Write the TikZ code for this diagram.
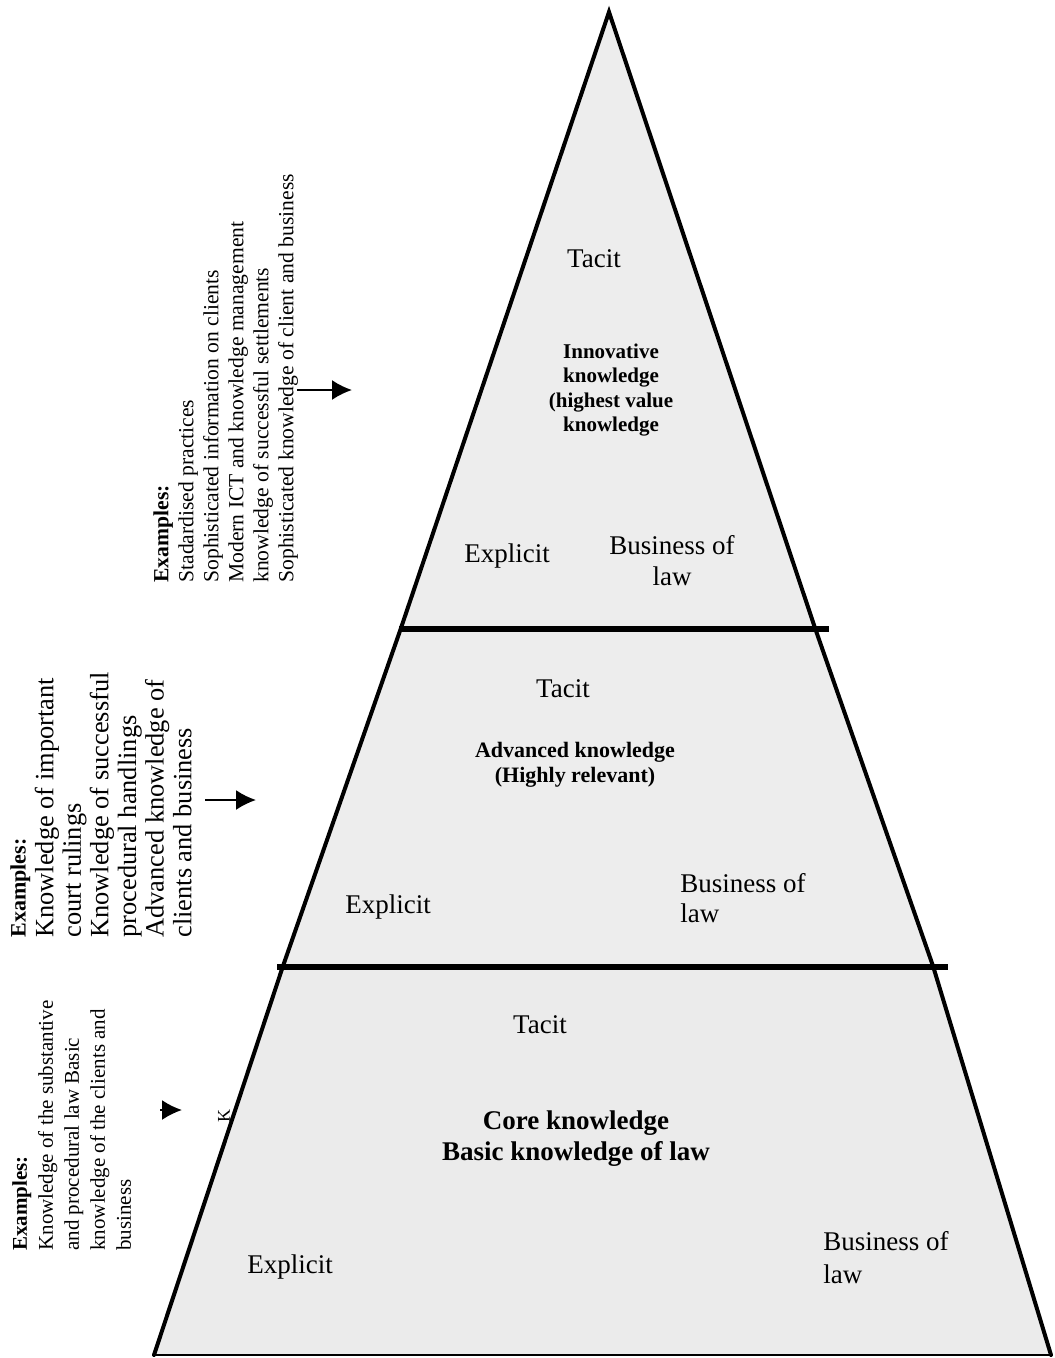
\documentclass[tikz,border=0pt]{standalone}
\usepackage{fontspec}
\setmainfont{Liberation Serif}
\usetikzlibrary{arrows.meta}
\begin{document}
\begin{tikzpicture}[x=0.5pt,y=-0.5pt,
  pyrfill/.style={fill=black!7},
  side/.style={line width=2pt,line cap=round},
  sep/.style={line width=3.3pt},
  lbl/.style={inner sep=0pt,font=\fontsize{13.5}{15.5}\selectfont},
  boldlbl/.style={inner sep=0pt,align=center,font=\bfseries},
  exbox/.style={inner sep=0pt,rotate=90,anchor=north west,align=left},
  arr/.style={line width=1pt,-{Latex[length=10pt,width=10pt]}}]
\useasboundingbox (0,0) rectangle (1054,1358);
% corner coordinates
\coordinate (apex) at (609,12);
\coordinate (l1) at (401,628);
\coordinate (r1) at (815,628);
\coordinate (l2) at (283,966);
\coordinate (r2) at (933,966);
\coordinate (l3) at (154,1355);
\coordinate (r3) at (1051,1355);
% fills
\fill[pyrfill] (apex) -- (l1) -- (r1) -- cycle;
\fill[pyrfill] (l1) -- (r1) -- (r2) -- (l2) -- cycle;
\fill[black!8] (l2) -- (r2) -- (r3) -- (l3) -- cycle;
% sides
\draw[side] (l1) -- (apex) -- (r1);
\draw[side] (l1) -- (l2);
\draw[side] (r1) -- (r2);
\draw[side] (l2) -- (l3);
\draw[side] (r2) -- (r3);
\draw[line width=1pt] (l3) -- (r3);
% separators
\coordinate (s1a) at (399,629);
\coordinate (s1b) at (829,629);
\coordinate (s2a) at (277,967);
\coordinate (s2b) at (948,967);
\draw[sep] (s1a) -- (s1b);
\draw[sep] (s2a) -- (s2b);
% top level texts
\node[lbl] (t1) at (594,259) {Tacit};
\node[boldlbl,font=\fontsize{10.5}{12.2}\selectfont\bfseries] (k1) at (611,390) {Innovative\\knowledge\\(highest value\\knowledge};
\node[lbl] (e1) at (507,556) {Explicit};
\node[lbl,align=center] (b1) at (672,561) {Business of\\law};
% middle level texts
\node[lbl] (t2) at (563,689) {Tacit};
\node[boldlbl,font=\fontsize{11}{12.5}\selectfont\bfseries] (k2) at (575,765) {Advanced knowledge\\(Highly relevant)};
\node[lbl] (e2) at (388,907) {Explicit};
\node[lbl,align=left,anchor=west,font=\fontsize{13.5}{15}\selectfont] (b2) at (680,898) {Business of\\law};
% bottom level texts
\node[lbl] (t3) at (540,1025) {Tacit};
\node[boldlbl,font=\fontsize{13.5}{15.5}\selectfont\bfseries] (k3) at (576,1139) {Core knowledge\\Basic knowledge of law};
\node[lbl] (e3) at (290,1267) {Explicit};
\node[lbl,align=left,anchor=west,font=\fontsize{13.5}{16.5}\selectfont] (b3) at (823,1258) {Business of\\law};
% example texts
\node[exbox,font=\fontsize{10.8}{12.5}\selectfont] (x1) at (153,583)
  {\textbf{Examples:}\\Stadardised practices\\Sophisticated information on clients\\Modern ICT and knowledge management\\knowledge of successful settlements\\Sophisticated knowledge of client and business};
\node[exbox,font=\fontsize{13.2}{13.8}\selectfont] (x2) at (10,938)
  {{\fontsize{11}{13.8}\selectfont\textbf{Examples:}}\\Knowledge of important\\court rulings\\Knowledge of successful\\procedural handlings\\Advanced knowledge of\\clients and business};
\node[exbox,font=\fontsize{10.5}{13}\selectfont] (x3) at (12,1251)
  {\textbf{Examples:}\\Knowledge of the substantive\\and procedural law Basic\\knowledge of the clients and\\business};
\node[inner sep=0pt,rotate=90,font=\fontsize{9}{10}\selectfont] (kk) at (224,1116) {K};
% arrows
\coordinate (a1s) at (297,390);
\coordinate (a1e) at (352,390);
\coordinate (a2s) at (205,800);
\coordinate (a2e) at (256,800);
\coordinate (a3s) at (160,1110);
\coordinate (a3e) at (182,1110);
\draw[arr] (a1s) -- (a1e);
\draw[arr] (a2s) -- (a2e);
\draw[arr] (a3s) -- (a3e);
\end{tikzpicture}
\end{document}
